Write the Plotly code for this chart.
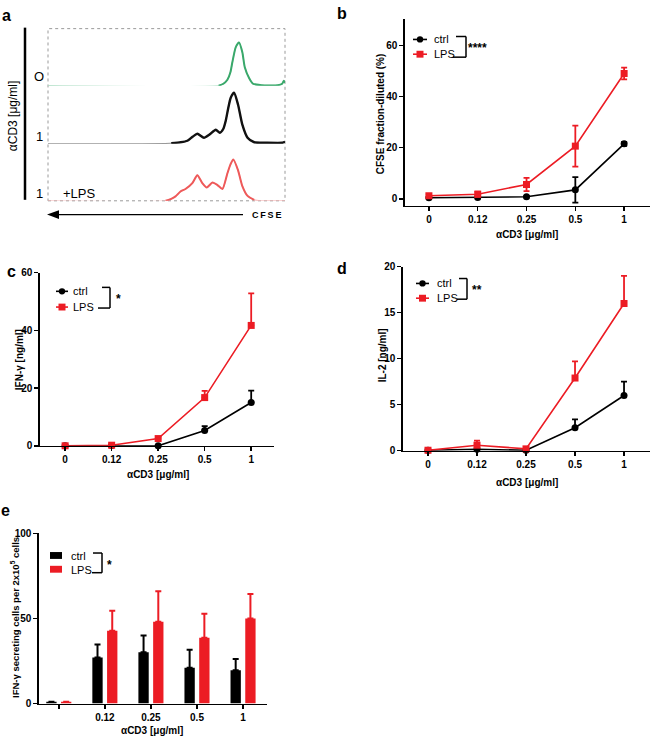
import plotly.graph_objects as go

W, H = 650, 743
FONT = "Liberation Sans"
RED = "#ec1c24"
BLACK = "#000000"

# ---------------- data ----------------
doses = ["0", "0.12", "0.25", "0.5", "1"]
dose_idx = [0, 1, 2, 3, 4]

# panel a: CFSE histograms (x: CFSE channel 0-100, y: counts)
green_x = [0, 72, 74, 75.7, 77, 77.8, 79.2, 80.6, 82, 83, 84.9, 86.5, 90, 97, 98.8, 99.5, 100]
green_y = [0, 0, 2, 6, 14, 24, 39, 44, 34, 19, 7.5, 2, 0.5, 0.5, 2, 5, 3]
black_x = [0, 52, 56, 58.8, 61, 63, 65.8, 68, 70.8, 72.5, 74, 75, 76, 77.1, 78.5, 80.2, 82, 84.2, 87, 92, 99, 100]
black_y = [0, 0.5, 1.5, 3, 7, 10, 6, 9, 14, 11, 15, 23, 35, 46, 51, 39, 19, 6, 1.5, 1, 1, 2]
red_x = [0, 49.6, 52, 53.8, 55.9, 58, 60.9, 63, 65.1, 67, 69.4, 71.5, 73.6, 75.7, 77, 78.2, 80.2, 82, 84.2, 87, 90, 100]
red_y = [0, 0, 2, 4.5, 9.5, 12, 18, 26, 18, 13.5, 18.5, 16, 12, 28, 37, 42, 31, 15, 5, 1, 0, 0]

# panel b: CFSE fraction diluted (%)
cfse_ctrl = [0.4, 0.5, 0.8, 3.5, 21.5]
cfse_ctrl_err = [0.3, 0.3, 0.3, 5.0, 0.8]
cfse_lps = [1.2, 1.8, 5.6, 20.6, 49.0]
cfse_lps_err = [0.5, 1.0, 2.6, 8.0, 2.3]

# panel c: IFN-gamma (ng/ml)
ifn_ctrl = [0.0, 0.1, 0.0, 5.3, 15.0]
ifn_ctrl_err = [0, 0, 0, 1.5, 4.1]
ifn_lps = [0.0, 0.2, 2.5, 16.7, 41.7]
ifn_lps_err = [0, 0, 0.3, 2.3, 11.1]

# panel d: IL-2 (ng/ml)
il2_ctrl = [0.05, 0.15, 0.05, 2.5, 6.0]
il2_ctrl_err = [0, 0.05, 0, 0.9, 1.5]
il2_lps = [0.05, 0.6, 0.2, 7.9, 16.0]
il2_lps_err = [0, 0.5, 0.05, 1.8, 3.0]

# panel e: IFN-gamma secreting cells per 2x10^5 cells
elispot_labels = ["", "0.12", "0.25", "0.5", "1"]
elispot_ctrl = [1, 27, 30.2, 21, 19.5]
elispot_ctrl_err = [0, 7.7, 9.8, 10.6, 6.7]
elispot_lps = [1, 42.8, 48, 38.7, 50]
elispot_lps_err = [0, 11.7, 18, 14.1, 14.4]


def px(x):
    return x / W


def py(y):
    return 1 - y / H


fig = go.Figure()


def line_trace(xa, ya, ys, err, color, symbol, one_sided):
    ey = dict(type="data", array=err, color=color, thickness=1.8, width=3, visible=True)
    if one_sided:
        ey["symmetric"] = False
        ey["arrayminus"] = [0] * len(err)
    fig.add_trace(go.Scatter(
        x=dose_idx, y=ys, xaxis=xa, yaxis=ya, mode="lines+markers",
        line=dict(color=color, width=1.6),
        marker=dict(color=color, size=7, symbol=symbol),
        error_y=ey, cliponaxis=False, showlegend=False))


# b
line_trace("x", "y", cfse_ctrl, cfse_ctrl_err, BLACK, "circle", False)
line_trace("x", "y", cfse_lps, cfse_lps_err, RED, "square", False)
# c
line_trace("x2", "y2", ifn_ctrl, ifn_ctrl_err, BLACK, "circle", True)
line_trace("x2", "y2", ifn_lps, ifn_lps_err, RED, "square", True)
# d
line_trace("x3", "y3", il2_ctrl, il2_ctrl_err, BLACK, "circle", True)
line_trace("x3", "y3", il2_lps, il2_lps_err, RED, "square", True)

# e bars
for ys, err, color, name in [(elispot_ctrl, elispot_ctrl_err, BLACK, "ctrl"),
                             (elispot_lps, elispot_lps_err, RED, "LPS")]:
    fig.add_trace(go.Bar(
        x=dose_idx, y=ys, xaxis="x4", yaxis="y4", name=name, offsetgroup=name,
        marker=dict(color=color, line=dict(width=0)),
        error_y=dict(type="data", array=err, symmetric=False, arrayminus=[0] * len(err),
                     color=color, thickness=2, width=3),
        showlegend=False))

# a histograms
for xs, ys, ya, col_thick, col_thin, wthick in [
        (green_x, green_y, "y5", "#3aa86b", "#a8dcc0", 2.0),
        (black_x, black_y, "y6", "#111111", "#777777", 2.4),
        (red_x, red_y, "y7", "#ee5a5a", "#f6b3b3", 2.0)]:
    fig.add_trace(go.Scatter(x=xs, y=ys, xaxis="x5", yaxis=ya, mode="lines",
                             line=dict(color=col_thin, width=1.2, shape="spline", smoothing=0.6),
                             cliponaxis=False, showlegend=False))
    n = len(ys)
    keep = [ys[i] >= 1.5 or (i > 0 and ys[i - 1] >= 1.5) or (i < n - 1 and ys[i + 1] >= 1.5)
            for i in range(n)]
    fig.add_trace(go.Scatter(x=xs, y=[v if k else None for v, k in zip(ys, keep)],
                             xaxis="x5", yaxis=ya, mode="lines",
                             line=dict(color=col_thick, width=wthick, shape="spline", smoothing=0.6),
                             cliponaxis=False, showlegend=False))

tickfont = dict(family=FONT, size=10, color="black", weight="bold")
common = dict(showline=True, linecolor="black", linewidth=1.6, ticks="outside", ticklen=4,
              tickwidth=1.5, tickcolor="black", showgrid=False, zeroline=False,
              tickfont=tickfont, fixedrange=True)


def xax(d0, d1, anchor, rng, tickvals, ticktext):
    return dict(common, domain=[px(d0), px(d1)], anchor=anchor, range=rng,
                tickmode="array", tickvals=tickvals, ticktext=ticktext)


def yax(top, bottom, anchor, rng, tickvals):
    return dict(common, domain=[py(bottom), py(top)], anchor=anchor, range=rng,
                tickmode="array", tickvals=tickvals)


hidden = dict(visible=False, showgrid=False, zeroline=False, fixedrange=True)

xaxis4 = xax(39, 267, "y4", [-0.43, 4.52], dose_idx[1:], elispot_labels[1:])
xaxis4["minor"] = dict(tickmode="array", tickvals=dose_idx[:1], ticks="outside", ticklen=4,
                       tickwidth=1.5, tickcolor="black", showgrid=False)

fig.update_layout(
    width=W, height=H, autosize=False,
    margin=dict(l=0, r=0, t=0, b=0),
    paper_bgcolor="white", plot_bgcolor="rgba(0,0,0,0)",
    barmode="group", bargap=0.36, bargroupgap=0.3,
    xaxis=xax(405, 650, "y", [-0.49, 4.53], dose_idx, doses),
    yaxis=yax(13, 203, "x", [-2.7, 70.4], [0, 20, 40, 60]),
    xaxis2=xax(40, 274, "y2", [-0.54, 4.49], dose_idx, doses),
    yaxis2=yax(271, 447, "x2", [0, 60], [0, 20, 40, 60]),
    xaxis3=xax(403, 650, "y3", [-0.51, 4.53], dose_idx, doses),
    yaxis3=yax(265, 452, "x3", [0, 20], [0, 5, 10, 15, 20]),
    xaxis4=xaxis4,
    yaxis4=yax(536, 709, "x4", [0, 100], [0, 50, 100]),
    xaxis5=dict(hidden, domain=[px(48), px(285)], anchor="y7", range=[0, 100]),
    yaxis5=dict(hidden, domain=[py(81), py(23)], anchor="x5", range=[0, 58]),
    yaxis6=dict(hidden, domain=[py(140), py(81)], anchor="x5", range=[0, 58]),
    yaxis7=dict(hidden, domain=[py(198), py(140)], anchor="x5", range=[0, 58]),
)

shapes = []
ann = []


def seg(x0, y0, x1, y1, color="black", width=1.5, dash=None):
    d = dict(type="line", xref="paper", yref="paper", x0=px(x0), y0=py(y0), x1=px(x1), y1=py(y1),
             line=dict(color=color, width=width))
    if dash:
        d["line"]["dash"] = dash
    shapes.append(d)


def box(x0, y0, x1, y1, fill):
    shapes.append(dict(type="rect", xref="paper", yref="paper", x0=px(x0), y0=py(y0),
                       x1=px(x1), y1=py(y1), fillcolor=fill, line=dict(width=0)))


def circ(cx, cy, r, fill):
    shapes.append(dict(type="circle", xref="paper", yref="paper", x0=px(cx - r), y0=py(cy - r),
                       x1=px(cx + r), y1=py(cy + r), fillcolor=fill, line=dict(width=0)))


def text(x, y, s, size=11, bold=False, xanchor="center", yanchor="middle", angle=0, color="black"):
    ann.append(dict(xref="paper", yref="paper", x=px(x), y=py(y), text=s, showarrow=False,
                    xanchor=xanchor, yanchor=yanchor, textangle=angle,
                    font=dict(family=FONT, size=size, color=color,
                              weight="bold" if bold else "normal")))


# ---- panel a decorations ----
shapes.append(dict(type="rect", xref="paper", yref="paper", x0=px(48), y0=py(198), x1=px(285), y1=py(23),
                   line=dict(color="#9a9a9a", width=1, dash="dot"), fillcolor="rgba(0,0,0,0)", layer="below"))
seg(25, 22, 25, 197, width=2.5)
text(13, 112, "αCD3 [μg/ml]", size=12, angle=-90)
text(39, 72, "O", size=13)
text(39, 133, "1", size=13)
text(39, 191, "1", size=13)
text(61, 191, "+LPS", size=13, xanchor="left")
text(250, 212, "C\u2009F\u2009S\u2009E", size=9, bold=True, xanchor="left")
# CFSE arrow (pointing left)
seg(56, 212, 243, 212, width=1.1)
shapes.append(dict(type="path", xref="paper", yref="paper",
                   path="M {} {} L {} {} L {} {} Z".format(px(47), py(212), px(59), py(207.5), px(59), py(216.5)),
                   fillcolor="black", line=dict(width=0)))

# ---- panel letters ----
text(6, 10, "a", size=16, bold=True)
text(342, 8, "b", size=16, bold=True)
text(11, 270, "c", size=16, bold=True)
text(342, 267, "d", size=16, bold=True)
text(5, 513, "e", size=16, bold=True)

# ---- axis titles ----
text(380, 110, "CFSE fraction-diluted (%)", size=10, bold=True, angle=-90)
text(527, 232, "αCD3 [μg/ml]", size=10, bold=True)
text(19, 360, "IFN-γ [ng/ml]", size=10, bold=True, angle=-90)
text(158, 476, "αCD3 [μg/ml]", size=10, bold=True)
text(382, 355, "IL-2 [ng/ml]", size=10, bold=True, angle=-90)
text(527, 484, "αCD3 [μg/ml]", size=10, bold=True)
text(15, 622, "IFN-γ secreting cells per 2x10<sup>5</sup> cells", size=9.5, bold=True, angle=-90)
text(152, 736, "αCD3 [μg/ml]", size=10, bold=True)


# ---- legends ----
def line_legend(x0, x1, y_ctrl, y_lps, tx, bx, btop, bbot, bl_top, bl_bot, star, sx, sy):
    cx = (x0 + x1) / 2
    seg(x0, y_ctrl, x1, y_ctrl, BLACK, 1.6)
    circ(cx, y_ctrl, 3.2, BLACK)
    seg(x0, y_lps, x1, y_lps, RED, 1.6)
    box(cx - 3.5, y_lps - 3.5, cx + 3.5, y_lps + 3.5, RED)
    text(tx, y_ctrl, "ctrl", size=11, xanchor="left")
    text(tx, y_lps, "LPS", size=11, xanchor="left")
    seg(bl_top, btop, bx, btop, width=1.5)
    seg(bx, btop, bx, bbot, width=1.5)
    seg(bl_bot, bbot, bx, bbot, width=1.5)
    text(sx, sy, star, size=12, bold=True, xanchor="left")


line_legend(413, 427, 34, 49, 432, 466, 31, 52, 456, 453, "****", 466, 43)
line_legend(56, 68, 290, 306, 71, 110, 286, 307, 102, 98, "*", 114, 298)
line_legend(416, 429, 282, 297, 435, 467, 277, 298, 459, 457, "**", 470, 289)

# e legend
box(50, 555, 62, 562, BLACK)
box(50, 569, 62, 576, RED)
text(69, 559, "ctrl", size=11, xanchor="left")
text(69, 573, "LPS", size=11, xanchor="left")
seg(93, 556, 102, 556)
seg(102, 556, 102, 576)
seg(92, 576, 102, 576)
text(105, 568, "*", size=12, bold=True, xanchor="left")

fig.update_layout(shapes=shapes, annotations=ann)
fig.write_html("out.html", config={"displayModeBar": False, "staticPlot": True},
               post_script="document.body.style.margin='0';document.body.style.overflow='hidden';")
